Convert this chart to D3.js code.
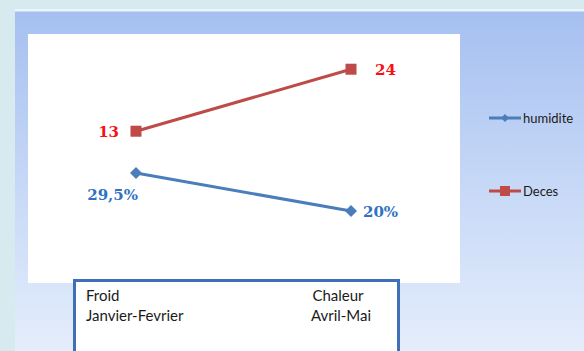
<!DOCTYPE html>
<html>
<head>
<meta charset="utf-8">
<script src="https://cdn.jsdelivr.net/npm/d3@7"></script>
<style>
  html, body { margin: 0; padding: 0; background: #d6eaf0; }
  svg { display: block; }
</style>
</head>
<body>
<svg id="chart" width="584" height="351"></svg>
<script>
// Two periods compared: humidity (%) and deaths
const periods = ["Froid", "Chaleur"];
const periodMonths = ["Janvier-Fevrier", "Avril-Mai"];
const humidite = [29.5, 20];
const deces = [13, 24];
const humiditeLabels = ["29,5%", "20%"];
const decesLabels = ["13", "24"];
const seriesNames = ["humidite", "Deces"];

const W = 584, H = 351;
const svg = d3.select("#chart");
const defs = svg.append("defs");

const grad = defs.append("linearGradient")
  .attr("id", "panelGrad").attr("x1", 0).attr("y1", 0).attr("x2", 0).attr("y2", 1);
grad.append("stop").attr("offset", "0%").attr("stop-color", "#a5bff0");
grad.append("stop").attr("offset", "55%").attr("stop-color", "#c9daf7");
grad.append("stop").attr("offset", "100%").attr("stop-color", "#e4edfb");

// page background
svg.append("rect").attr("width", W).attr("height", H).attr("fill", "#d6eaf0");
// slide panel
svg.append("rect").attr("x", 15).attr("y", 10).attr("width", W - 15).attr("height", H - 10)
  .attr("fill", "url(#panelGrad)");
svg.append("rect").attr("x", 15).attr("y", 9).attr("width", W - 15).attr("height", 2)
  .attr("fill", "#eaf6fd");
svg.append("rect").attr("x", 15).attr("y", 11).attr("width", W - 15).attr("height", 1)
  .attr("fill", "#c4daf6");

// white chart area
const plot = { x: 28, y: 34, w: 432, h: 249 };
svg.append("rect").attr("x", plot.x).attr("y", plot.y)
  .attr("width", plot.w).attr("height", plot.h).attr("fill", "#ffffff");

// scales (each series on its own value axis)
const x = d3.scalePoint().domain(periods).range([136, 351]);
const yDeces = d3.scaleLinear().domain([0, 30]).range([204.5, 35.4]);
const yHum = d3.scaleLinear().domain([0, 40]).range([291, 131]);

const line = (ys) => d3.line().x((d, i) => x(periods[i])).y(d => ys(d));

const RED = "#be4b48", BLUE = "#4a7ebb";

// Deces series
svg.append("path").datum(deces).attr("d", line(yDeces))
  .attr("fill", "none").attr("stroke", RED).attr("stroke-width", 3);
svg.selectAll(".mk-deces").data(deces).enter().append("rect")
  .attr("x", (d, i) => x(periods[i]) - 5.5).attr("y", d => yDeces(d) - 5.5)
  .attr("width", 11).attr("height", 11).attr("fill", RED);

// humidite series
svg.append("path").datum(humidite).attr("d", line(yHum))
  .attr("fill", "none").attr("stroke", BLUE).attr("stroke-width", 3);
svg.selectAll(".mk-hum").data(humidite).enter().append("path")
  .attr("transform", (d, i) => `translate(${x(periods[i])},${yHum(d)})`)
  .attr("d", "M0,-6L6,0L0,6L-6,0Z").attr("fill", BLUE);

// value labels
const labelFont = "'DejaVu Serif', serif";
svg.selectAll(".lb-deces").data(deces).enter().append("text")
  .attr("x", (d, i) => i === 0 ? x(periods[i]) - 17 : x(periods[i]) + 24)
  .attr("y", d => yDeces(d) + 6)
  .attr("text-anchor", (d, i) => i === 0 ? "end" : "start")
  .attr("font-family", labelFont).attr("font-weight", "bold").attr("font-size", 15)
  .attr("fill", "#fa1010")
  .text((d, i) => decesLabels[i]);
svg.selectAll(".lb-hum").data(humidite).enter().append("text")
  .attr("x", (d, i) => i === 0 ? x(periods[i]) + 2 : x(periods[i]) + 12)
  .attr("y", (d, i) => i === 0 ? yHum(d) + 27 : yHum(d) + 6)
  .attr("text-anchor", (d, i) => i === 0 ? "end" : "start")
  .attr("font-family", labelFont).attr("font-weight", "bold").attr("font-size", 15)
  .attr("fill", "#2f72c2")
  .text((d, i) => humiditeLabels[i]);

// legend
const legend = [
  { name: seriesNames[0], color: BLUE, y: 118, shape: "diamond" },
  { name: seriesNames[1], color: RED, y: 191, shape: "square" }
];
const lg = svg.selectAll(".legend").data(legend).enter().append("g")
  .attr("transform", d => `translate(489,${d.y})`);
lg.append("line").attr("x1", 0).attr("x2", 32).attr("y1", 0).attr("y2", 0)
  .attr("stroke", d => d.color).attr("stroke-width", 3);
lg.append("path")
  .attr("d", d => d.shape === "diamond" ? "M16,-4L20,0L16,4L12,0Z" : "M11,-5H21V5H11Z")
  .attr("fill", d => d.color);
lg.append("text").attr("x", 34).attr("y", 4.5)
  .attr("font-family", "Lato, 'Open Sans', sans-serif").attr("font-size", 13)
  .attr("fill", "#1a1a1a").text(d => d.name);

// category caption box
svg.append("rect").attr("x", 74.5).attr("y", 280.5).attr("width", 324).attr("height", 90)
  .attr("fill", "#ffffff").attr("stroke", "#3f6fb6").attr("stroke-width", 3);
const capFont = "Lato, 'Open Sans', sans-serif";
periods.forEach((p, i) => {
  const anchor = i === 0 ? "start" : "middle";
  svg.append("text").attr("x", i === 0 ? 86 : 338).attr("y", 301)
    .attr("font-family", capFont).attr("font-size", 15).attr("fill", "#1a1a1a")
    .attr("text-anchor", anchor).text(p);
  svg.append("text").attr("x", i === 0 ? 86 : 341).attr("y", 321)
    .attr("font-family", capFont).attr("font-size", 15).attr("fill", "#1a1a1a")
    .attr("text-anchor", anchor).text(periodMonths[i]);
});
</script>
</body>
</html>
